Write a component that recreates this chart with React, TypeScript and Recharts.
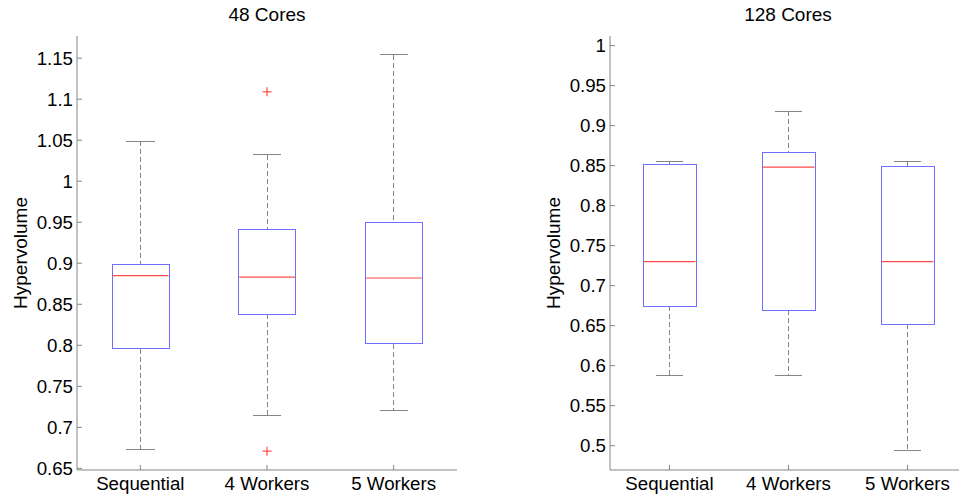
import React from 'react'
import { ComposedChart, Bar, Scatter, XAxis, YAxis } from 'recharts'

const FONT = '"Liberation Sans", Arial, Helvetica, sans-serif'

const categories = ['Sequential', '4 Workers', '5 Workers']

// 48 cores
const lo48 = [0.673, 0.715, 0.721]
const q1_48 = [0.796, 0.838, 0.802]
const med48 = [0.885, 0.883, 0.882]
const q3_48 = [0.899, 0.941, 0.95]
const hi48 = [1.049, 1.032, 1.154]
const outliers48 = [
  { name: '4 Workers', v: 1.109 },
  { name: '4 Workers', v: 0.671 },
]
const yTicks48 = [0.65, 0.7, 0.75, 0.8, 0.85, 0.9, 0.95, 1, 1.05, 1.1, 1.15]
const yDomain48: [number, number] = [0.648, 1.177]

// 128 cores
const lo128 = [0.588, 0.588, 0.494]
const q1_128 = [0.674, 0.669, 0.652]
const med128 = [0.73, 0.848, 0.73]
const q3_128 = [0.852, 0.867, 0.849]
const hi128 = [0.855, 0.918, 0.855]
const outliers128: { name: string; v: number }[] = []
const yTicks128 = [0.5, 0.55, 0.6, 0.65, 0.7, 0.75, 0.8, 0.85, 0.9, 0.95, 1]
const yDomain128: [number, number] = [0.4696, 1.012]

const buildRows = (lo: number[], q1: number[], med: number[], q3: number[], hi: number[]) =>
  categories.map((name, i) => ({
    name,
    range: [lo[i], hi[i]],
    lo: lo[i],
    q1: q1[i],
    med: med[i],
    q3: q3[i],
    hi: hi[i],
  }))

const rows48 = buildRows(lo48, q1_48, med48, q3_48, hi48)
const rows128 = buildRows(lo128, q1_128, med128, q3_128, hi128)

const FRAME = '#858585'
const WHISKER = '#858585'
const BOX = '#6e6eff'
const MEDIAN = '#ff4a4a'

// draws one box plot inside the rect that the range bar [lo, hi] got from the y scale
const BoxShape = (props: any) => {
  const { x, y, width, height, payload } = props
  const top = Math.min(y, y + height)
  const h = Math.abs(height)
  const { lo, hi, q1, q3, med } = payload
  const py = (v: number) => top + ((hi - v) / (hi - lo)) * h
  const cx = x + width / 2
  const cap = width / 4
  return (
    <g>
      <g shapeRendering="crispEdges">
        <line x1={cx} x2={cx} y1={py(hi)} y2={py(q3)} stroke={WHISKER} strokeDasharray="5 3" />
        <line x1={cx} x2={cx} y1={py(q1)} y2={py(lo)} stroke={WHISKER} strokeDasharray="5 3" />
        <line x1={cx - cap} x2={cx + cap} y1={py(hi)} y2={py(hi)} stroke={WHISKER} />
        <line x1={cx - cap} x2={cx + cap} y1={py(lo)} y2={py(lo)} stroke={WHISKER} />
        <rect x={x} y={py(q3)} width={width} height={py(q1) - py(q3)} fill="#fff" stroke={BOX} />
      </g>
      <line x1={x + 0.5} x2={x + width - 0.5} y1={py(med)} y2={py(med)} stroke={MEDIAN} strokeWidth={1.2} />
    </g>
  )
}

const Plus = (props: any) => {
  const { cx, cy } = props
  return (
    <g stroke={MEDIAN} strokeWidth={1.2}>
      <line x1={cx - 4.5} x2={cx + 4.5} y1={cy} y2={cy} />
      <line x1={cx} x2={cx} y1={cy - 4.5} y2={cy + 4.5} />
    </g>
  )
}

const tickStyle = { fontSize: 18.7, fill: '#000', fontFamily: FONT }

interface PanelProps {
  rows: any[]
  outliers: { name: string; v: number }[]
  domain: [number, number]
  ticks: number[]
  barSize: number
  width: number
  marginLeft: number
  marginRight: number
}

function Panel({ rows, outliers, domain, ticks, barSize, width, marginLeft, marginRight }: PanelProps) {
  return (
    <ComposedChart
      width={width}
      height={498}
      data={rows}
      margin={{ top: 36, right: marginRight, bottom: 0, left: marginLeft }}
    >
      <XAxis
        dataKey="name"
        allowDuplicatedCategory={false}
        height={28}
        tickSize={-5}
        tickMargin={12}
        tick={tickStyle}
        stroke={FRAME}
        tickLine={{ stroke: FRAME }}
        axisLine={{ stroke: FRAME }}
        interval={0}
      />
      <XAxis
        xAxisId="top"
        dataKey="name"
        orientation="top"
        allowDuplicatedCategory={false}
        height={0}
        tickSize={-5}
        tick={false}
        tickLine={{ stroke: FRAME }}
        axisLine={{ stroke: FRAME }}
        interval={0}
      />
      <YAxis
        type="number"
        domain={domain}
        ticks={ticks}
        allowDataOverflow
        width={60}
        tickSize={-5}
        tickMargin={9}
        tick={tickStyle}
        tickLine={{ stroke: FRAME }}
        axisLine={{ stroke: FRAME }}
        interval={0}
      />
      <YAxis
        yAxisId="r"
        orientation="right"
        type="number"
        domain={domain}
        ticks={ticks}
        allowDataOverflow
        width={0}
        tickSize={-5}
        tick={false}
        tickLine={{ stroke: FRAME }}
        axisLine={{ stroke: FRAME }}
        interval={0}
      />
      <Bar dataKey="range" barSize={barSize} shape={<BoxShape />} isAnimationActive={false} />
      <Scatter data={outliers} dataKey="v" shape={<Plus />} isAnimationActive={false} />
    </ComposedChart>
  )
}

export default function App() {
  const textStyle = { fontFamily: FONT, fontSize: 19, fill: '#000' }
  return (
    <div style={{ position: 'absolute', left: 0, top: 0, width: 959, height: 498, background: '#fff', overflow: 'hidden' }}>
      <div style={{ position: 'absolute', left: 0, top: 0, width: 480, height: 498 }}>
        <Panel
          rows={rows48}
          outliers={outliers48}
          domain={yDomain48}
          ticks={yTicks48}
          barSize={57}
          width={480}
          marginLeft={17}
          marginRight={23}
        />
      </div>
      <div style={{ position: 'absolute', left: 480, top: 0, width: 479, height: 498, overflow: 'hidden' }}>
        <Panel
          rows={rows128}
          outliers={outliers128}
          domain={yDomain128}
          ticks={yTicks128}
          barSize={53}
          width={500}
          marginLeft={70}
          marginRight={13}
        />
      </div>
      <svg width={959} height={498} style={{ position: 'absolute', left: 0, top: 0, pointerEvents: 'none' }}>
        <text x={267} y={21} textAnchor="middle" style={textStyle}>48 Cores</text>
        <text x={788} y={21} textAnchor="middle" style={textStyle}>128 Cores</text>
        <text transform="translate(26.5,253) rotate(-90)" textAnchor="middle" style={textStyle}>Hypervolume</text>
        <text transform="translate(559.5,253) rotate(-90)" textAnchor="middle" style={textStyle}>Hypervolume</text>
      </svg>
    </div>
  )
}
